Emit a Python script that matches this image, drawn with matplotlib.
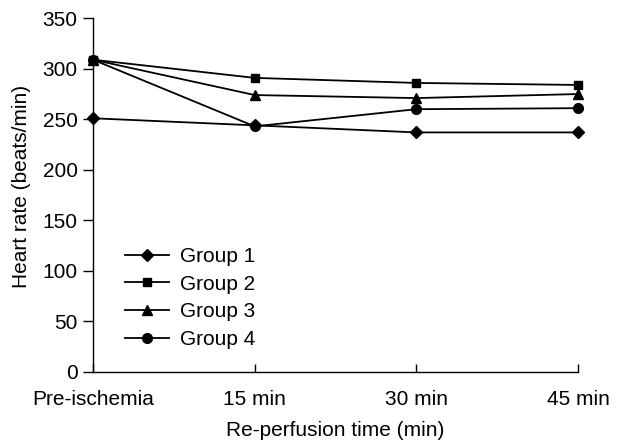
import matplotlib
matplotlib.use("Agg")
import matplotlib.pyplot as plt

plt.rcParams['font.family'] = ['Liberation Sans', 'DejaVu Sans']

categories = ["Pre-ischemia", "15 min", "30 min", "45 min"]
group1 = [251, 244, 237, 237]
group2 = [309, 291, 286, 284]
group3 = [309, 274, 271, 275]
group4 = [309, 243, 260, 261]
y_ticks = [0, 50, 100, 150, 200, 250, 300, 350]

fig = plt.figure(figsize=(6.34, 4.41), dpi=100)
ax = fig.add_axes([0.1467, 0.157, 0.765, 0.8015])

x = range(len(categories))
ax.plot(x, group1, color='black', lw=1.3, marker='D', ms=6.5, label='Group 1', clip_on=False)
ax.plot(x, group2, color='black', lw=1.3, marker='s', ms=6, label='Group 2', clip_on=False)
ax.plot(x, group3, color='black', lw=1.3, marker='^', ms=7, label='Group 3', clip_on=False)
ax.plot(x, group4, color='black', lw=1.3, marker='o', ms=7, label='Group 4', clip_on=False)

ax.set_xlim(0, 3)
ax.set_ylim(0, 350)
ax.set_xticks(list(x))
ax.set_xticklabels(categories)
ax.set_yticks(y_ticks)
ax.tick_params(axis='y', labelsize=15, length=7, width=1, direction='out', pad=4)
ax.tick_params(axis='x', labelsize=15, length=6, width=1, direction='in', pad=13)
ax.spines['top'].set_visible(False)
ax.spines['right'].set_visible(False)
for s in ['left', 'bottom']:
    ax.spines[s].set_linewidth(1)

ax.set_xlabel("Re-perfusion time (min)", fontsize=15, va='center')
ax.set_ylabel("Heart rate (beats/min)", fontsize=15, va='center')
ax.xaxis.set_label_coords(0.5, -0.165)
ax.yaxis.set_label_coords(-0.148, 0.525)

fig.legend(loc='center left', bbox_to_anchor=(125 / 634, (441 - 298) / 441),
           frameon=False, fontsize=15, handlelength=2.1, handletextpad=0.55,
           labelspacing=0.41, borderpad=0, borderaxespad=0)

fig.savefig("out.png", dpi=100)
